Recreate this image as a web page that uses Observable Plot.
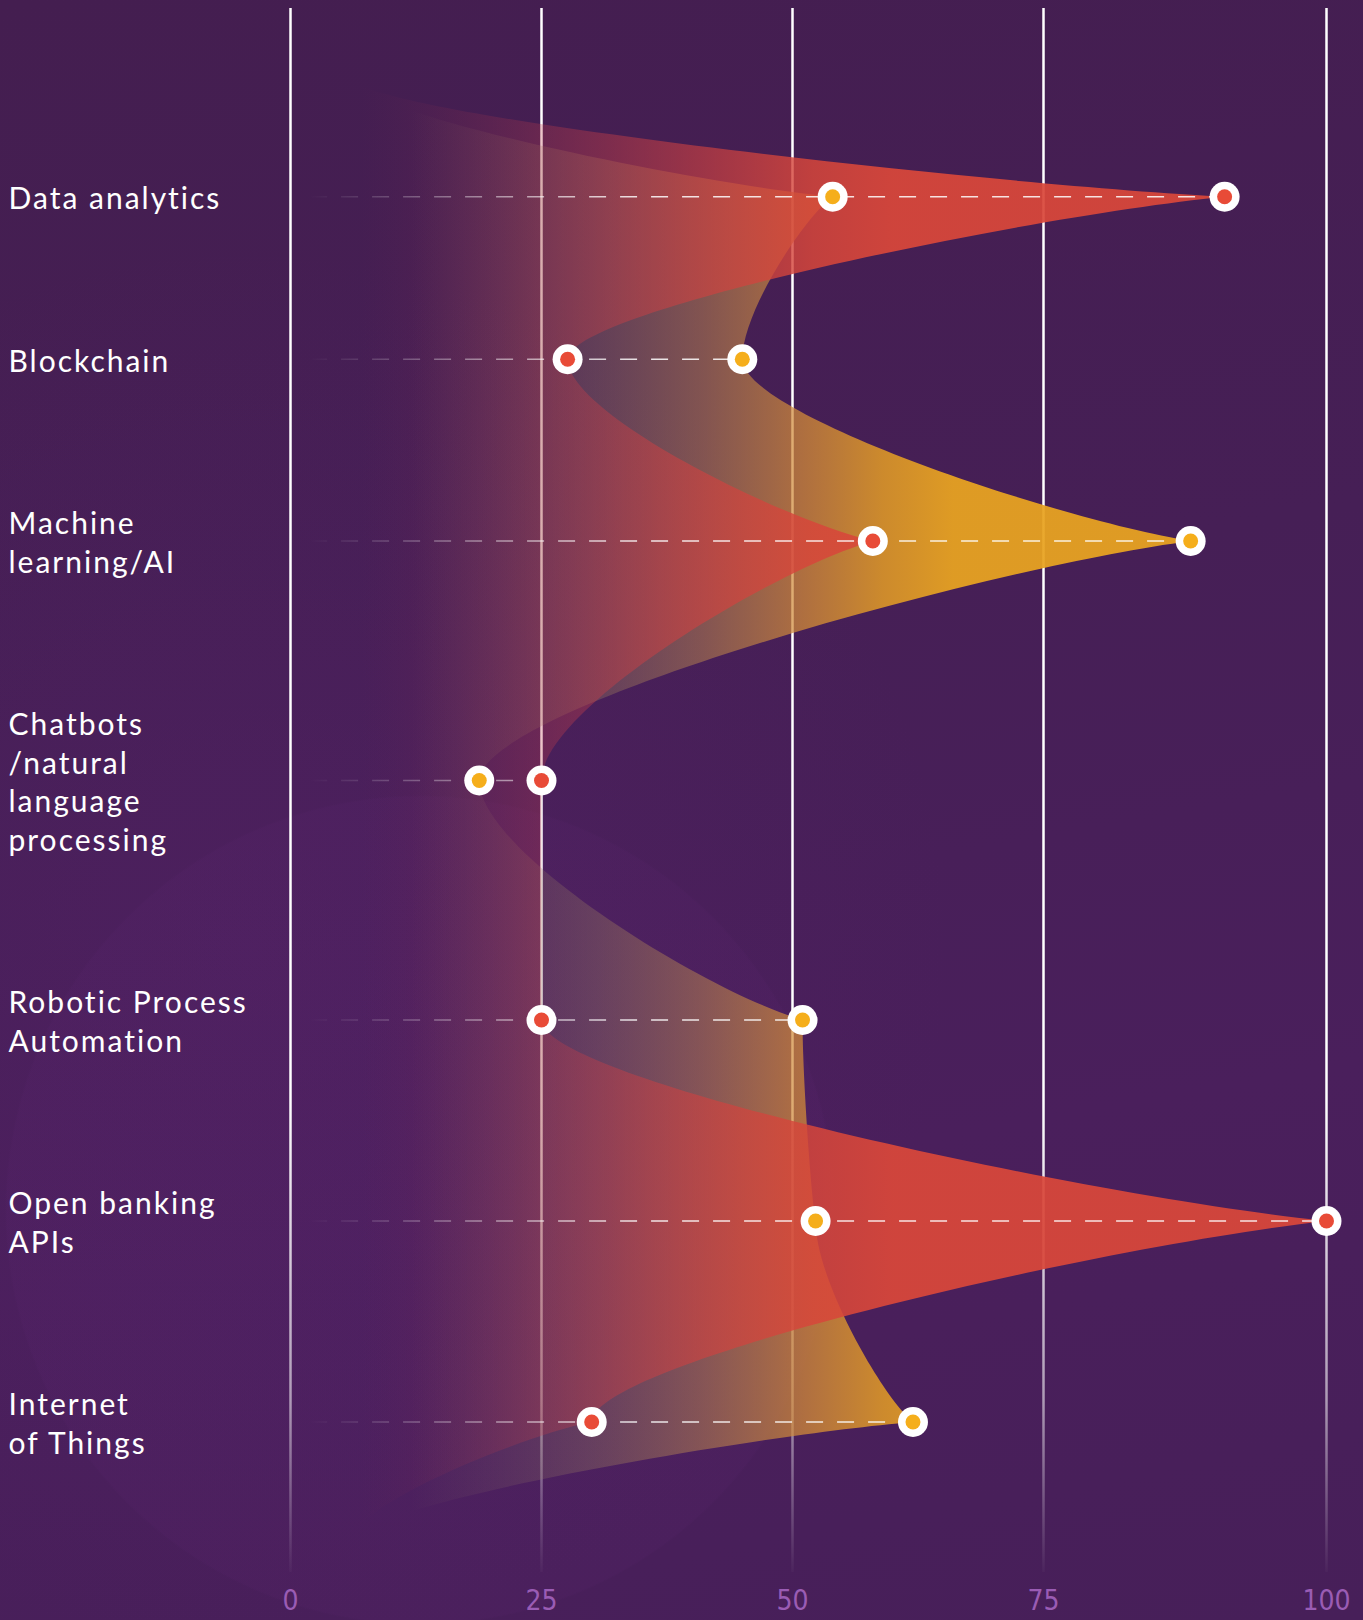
<!DOCTYPE html>
<html>
<head>
<meta charset="utf-8">
<script src="https://cdn.jsdelivr.net/npm/d3@7"></script>
<script src="https://cdn.jsdelivr.net/npm/@observablehq/plot@0.6"></script>
<style>
  html, body { margin: 0; padding: 0; }
  body {
    width: 1363px; height: 1620px; overflow: hidden;
    background:
      radial-gradient(circle 415px at 420px 1210px, rgba(96, 40, 116, 0.12) 99.5%, rgba(96, 40, 116, 0) 100%),
      radial-gradient(circle 700px at 250px 950px, rgba(88, 34, 108, 0.3), rgba(88, 34, 108, 0) 100%),
      linear-gradient(170deg, #441e50 0%, #461f56 40%, #4a1f5c 70%, #471f59 100%);
  }
  #chart svg { display: block; }
  #chart g[font-family^="Lato"] { letter-spacing: 2px; }
</style>
</head>
<body>
<div id="chart"></div>
<script>
// ---- data ----
const categories = [
  "Data analytics",
  "Blockchain",
  "Machine\nlearning/AI",
  "Chatbots\n/natural\nlanguage\nprocessing",
  "Robotic Process\nAutomation",
  "Open banking\nAPIs",
  "Internet\nof Things"
];
const redValues    = [91, 27.6, 58, 25, 25, 100, 30];
const yellowValues = [54, 45, 88, 18.8, 51, 52.3, 62];
const xTicks = [0, 25, 50, 75, 100];

// ---- layout / style ----
const W = 1363, H = 1620;
const marginTop = 8, marginBottom = 48, marginLeft = 290, marginRight = 37;
const xScaleOptions = {type: "linear", domain: [0, 75, 100], range: [290, 1043, 1326]};
const frameH = H - marginTop - marginBottom;
const topPad = 107, rowBase = 124, rowPerLine = 38.5;

// row positions derived from the number of label lines
let acc = topPad;
const rows = categories.map((label, i) => {
  const lines = label.split("\n").length;
  const span = rowBase + rowPerLine * lines;
  const y = acc + span / 2;
  acc += span;
  return {label, y, red: redValues[i], yellow: yellowValues[i], max: Math.max(redValues[i], yellowValues[i])};
});

const xs = Plot.scale({x: xScaleOptions});
const baseValue = 6;

// curve: near-horizontal tangent at the larger-value end of each segment (spike), vertical at the smaller
function spikeCurve(baseX, lead, k, b) {
  return function(context) {
    let pts;
    return {
      areaStart() {}, areaEnd() {},
      lineStart() { pts = []; },
      point(x, y) { pts.push([+x, +y]); },
      lineEnd() {
        if (!pts.length) return;
        const p = [[baseX, pts[0][1] - lead], ...pts, [baseX, pts[pts.length - 1][1] + lead]];
        context.moveTo(p[0][0], p[0][1]);
        for (let i = 1; i < p.length; ++i) {
          const [x0, y0] = p[i - 1], [x1, y1] = p[i];
          const dx = x1 - x0, dy = y1 - y0;
          if (dx >= 0) context.bezierCurveTo(x0, y0 + k * dy, x1 - k * dx, y1 - b * dy, x1, y1);
          else context.bezierCurveTo(x0 + k * dx, y0 + b * dy, x1, y1 - k * dy, x1, y1);
        }
        context.closePath();
      }
    };
  };
}
const curve = spikeCurve(xs.apply(baseValue), 120, 0.3, 0.12);

function gradients(index, scales) {
  const x = scales.x;
  const defs = d3.create("svg:defs");
  const lin = (id, stops, a, b, vertical) => {
    const g = defs.append("linearGradient").attr("id", id).attr("gradientUnits", "userSpaceOnUse");
    if (vertical) g.attr("x1", 0).attr("x2", 0).attr("y1", a).attr("y2", b);
    else g.attr("x1", x(a)).attr("x2", x(b)).attr("y1", 0).attr("y2", 0);
    for (const [o, c, op] of stops) g.append("stop").attr("offset", o).attr("stop-color", c).attr("stop-opacity", op);
  };
  const lo = (v, a, b) => (v - a) / (b - a);
  lin("redFill", [
    [0, "rgb(120,40,80)", 0],
    [lo(25, 7, 60), "rgb(190,60,75)", 0.3],
    [lo(40, 7, 60), "rgb(205,65,65)", 0.62],
    [lo(52, 7, 60), "rgb(215,70,58)", 0.85],
    [1, "rgb(217,71,58)", 0.93]
  ], 7, 60);
  lin("yellowFill", [
    [0, "rgb(140,115,100)", 0],
    [lo(20, 12, 66), "rgb(140,115,100)", 0.15],
    [lo(30, 12, 66), "rgb(154,125,96)", 0.33],
    [lo(41, 12, 66), "rgb(191,137,77)", 0.5],
    [lo(51, 12, 66), "rgb(211,139,56)", 0.74],
    [lo(59, 12, 66), "rgb(223,153,39)", 0.88],
    [1, "rgb(232,163,33)", 0.94]
  ], 12, 66);
  lin("dashFade", [[0, "white", 0], [1, "white", 0.85]], 2, 35);
  lin("gridFade", [[0, "white", 1], [0.172, "white", 1], [0.69, "white", 0.55], [1, "white", 0]], 1000, 1580, true);
  return defs.node();
}

const chart = Plot.plot({
  width: W, height: H,
  marginTop, marginBottom, marginLeft, marginRight,
  style: {background: "transparent", overflow: "visible"},
  x: xScaleOptions,
  y: {type: "linear", domain: [0, frameH], reverse: true, axis: null},
  marks: [
    gradients,
    Plot.ruleX(xTicks, {x: d => d, stroke: "url(#gridFade)", strokeWidth: 2.5}),
    Plot.line(rows, {x: "yellow", y: "y", curve, fill: "url(#yellowFill)", stroke: "none"}),
    Plot.line(rows, {x: "red", y: "y", curve, fill: "url(#redFill)", stroke: "none"}),
    Plot.ruleY(rows, {y: "y", x1: 2, x2: "max", stroke: "url(#dashFade)", strokeWidth: 1.6, strokeDasharray: "17 14"}),
    Plot.dot(rows, {x: "red", y: "y", r: 15, fill: "white", stroke: "none"}),
    Plot.dot(rows, {x: "yellow", y: "y", r: 15, fill: "white", stroke: "none"}),
    Plot.dot(rows, {x: "red", y: "y", r: 7.5, fill: "#e84b37", stroke: "none"}),
    Plot.dot(rows, {x: "yellow", y: "y", r: 7.5, fill: "#f5ae1b", stroke: "none"}),
    Plot.text(rows, {
      y: "y", text: "label", frameAnchor: "left", dx: -282,
      textAnchor: "start", lineAnchor: "middle", lineHeight: 1.29,
      fontSize: 30, fontFamily: "Lato, 'Open Sans', sans-serif", fill: "white"
    }),
    Plot.axisX(xTicks, {
      anchor: "bottom", tickSize: 0, tickPadding: 18, label: null,
      fontSize: 28, fontFamily: "'Liberation Sans Narrow', 'DejaVu Sans Condensed', 'Roboto Condensed', sans-serif",
      fill: "#9a5cb4"
    })
  ]
});
document.getElementById("chart").appendChild(chart);
</script>
</body>
</html>
